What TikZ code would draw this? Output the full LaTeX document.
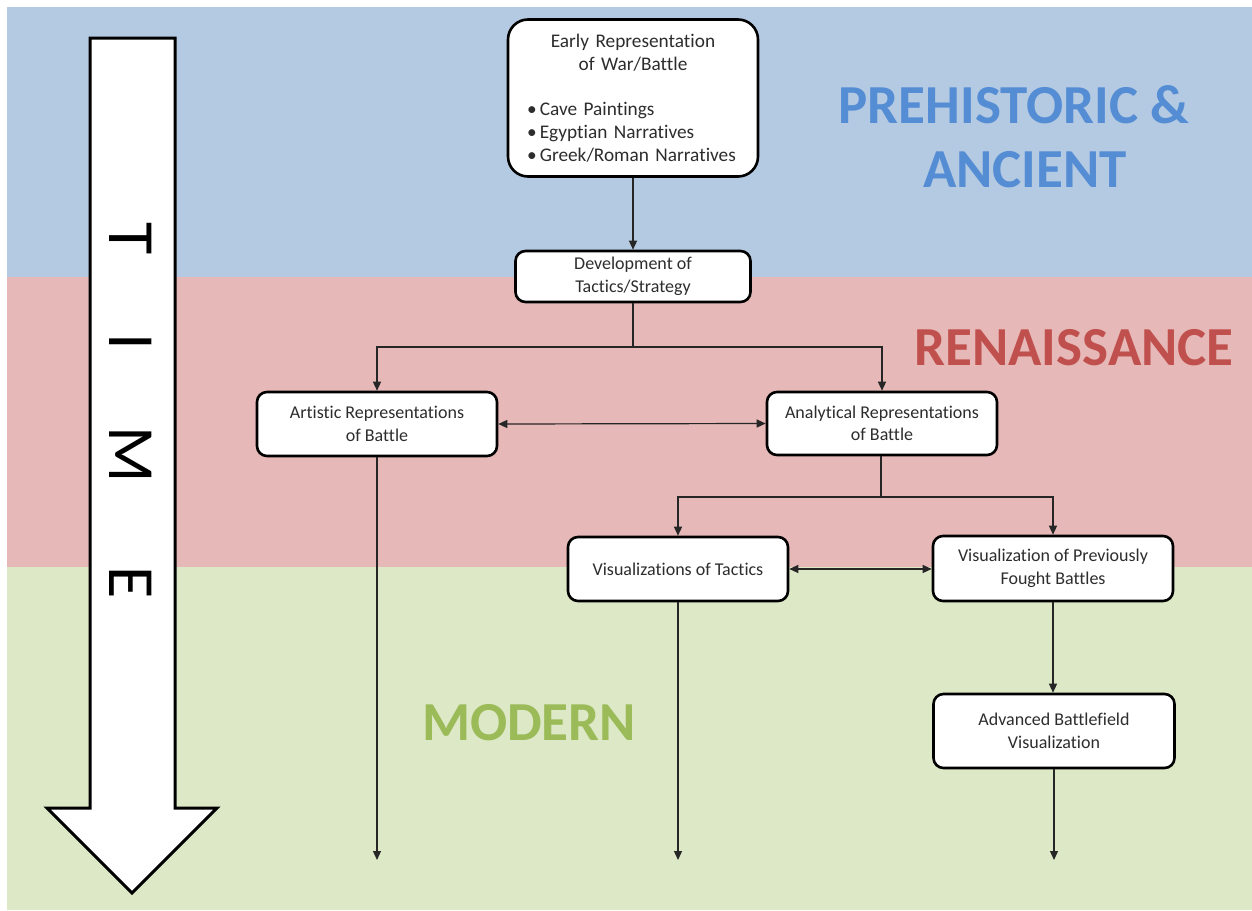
\documentclass[tikz,border=0pt]{standalone}
\usepackage{fontspec}
\setmainfont{Carlito}[Ligatures=NoCommon]
\usetikzlibrary{arrows.meta}
\definecolor{bandblue}{RGB}{180,201,226}
\definecolor{bandred}{RGB}{230,184,183}
\definecolor{bandgreen}{RGB}{221,232,199}
\definecolor{tblue}{RGB}{84,141,212}
\definecolor{tred}{RGB}{192,80,77}
\definecolor{tgreen}{RGB}{155,187,89}
\definecolor{txt}{RGB}{45,45,45}
\begin{document}
\begin{tikzpicture}[x=1pt,y=-1pt,
  box/.style={draw=black, line width=2.6pt, rounded corners=10pt, fill=white,
    align=center, inner sep=0pt, text=txt, font=\fontsize{18}{22.5}\selectfont},
  conn/.style={line width=1.2pt, draw=black!85},
  tip/.tip={Triangle[length=9pt,width=8pt]},
  era/.style={font=\bfseries\fontsize{55}{64}\selectfont, anchor=base, inner sep=0pt},
  letter/.style={rotate=-90, font=\fontsize{66}{66}\selectfont, inner sep=0pt}]
\useasboundingbox (0,0) rectangle (1252,910);
\fill[white] (0,0) rectangle (1252,910);
\fill[bandblue] (7,7) rectangle (1252,277);
\fill[bandred] (7,277) rectangle (1252,567);
\fill[bandgreen] (7,567) rectangle (1252,910);
% time arrow
\draw[line width=3pt, fill=white, line join=miter]
  (90,38) -- (175,38) -- (175,808) -- (217,808) -- (132,893) -- (47,808) -- (90,808) -- cycle;
\node[letter] (lT) at (131,239) {T};
\node[letter] (lI) at (131,342) {I};
\node[letter] (lM) at (131,455) {M};
\node[letter] (lE) at (131,583) {E};
% era labels
\node[era, text=tblue] (pre1) at (1014,123) {PREHISTORIC \&};
\node[era, text=tblue] (pre2) at (1025,187) {ANCIENT};
\node[era, text=tred] (ren) at (1074,365) {RENAISSANCE};
\node[era, text=tgreen] (mod) at (529,740) {MODERN};
% boxes
\node[box, rounded corners=20pt, minimum width=250pt, minimum height=157pt,
  text width=212pt, align=left, font=\fontsize{19.3}{22.7}\selectfont] (early) at (633,98)
  {{\centering Early Representation\\of War/Battle\par}\vspace{22.7pt}%
   \raggedright\textbullet\,Cave Paintings\\\textbullet\,Egyptian Narratives\\\textbullet\,Greek/Roman Narratives};
\node[box, minimum width=235pt, minimum height=51pt] (dev) at (633,276.5) {Development of\\Tactics/Strategy};
\node[box, minimum width=240pt, minimum height=64pt] (art) at (377,424) {Artistic Representations\\of Battle};
\node[box, minimum width=230pt, minimum height=63pt] (ana) at (882,423.5) {Analytical Representations\\of Battle};
\node[box, minimum width=220pt, minimum height=64pt] (tac) at (678,569) {Visualizations of Tactics};
\node[box, minimum width=240pt, minimum height=65pt] (prev) at (1053,568.5) {Visualization of Previously\\Fought Battles};
\node[box, minimum width=241pt, minimum height=74pt] (adv) at (1054,731) {Advanced Battlefield\\Visualization};
% junctions and ends
\coordinate (j1) at (633,347);
\coordinate (j2) at (881,497);
\coordinate (e1) at (377,860);
\coordinate (e2) at (678,860);
\coordinate (e3) at (1054,860);
% connectors
\draw[conn,-tip] (early.south) -- (dev.north);
\draw[conn] (dev.south) -- (j1);
\draw[conn,-tip] (j1) -| (art.north);
\draw[conn,-tip] (j1) -| (ana.north);
\draw[conn,tip-tip] (art.east) -- (ana.west);
\draw[conn] (ana.south -| j2) -- (j2);
\draw[conn,-tip] (j2) -| (tac.north);
\draw[conn,-tip] (j2) -| (prev.north);
\draw[conn,tip-tip] (tac.east) -- (tac.east -| prev.west);
\draw[conn,-tip] (prev.south) -- (prev.south |- adv.north);
\draw[conn,-tip] (art.south) -- (e1);
\draw[conn,-tip] (tac.south) -- (e2);
\draw[conn,-tip] (adv.south) -- (e3);
\end{tikzpicture}
\end{document}
